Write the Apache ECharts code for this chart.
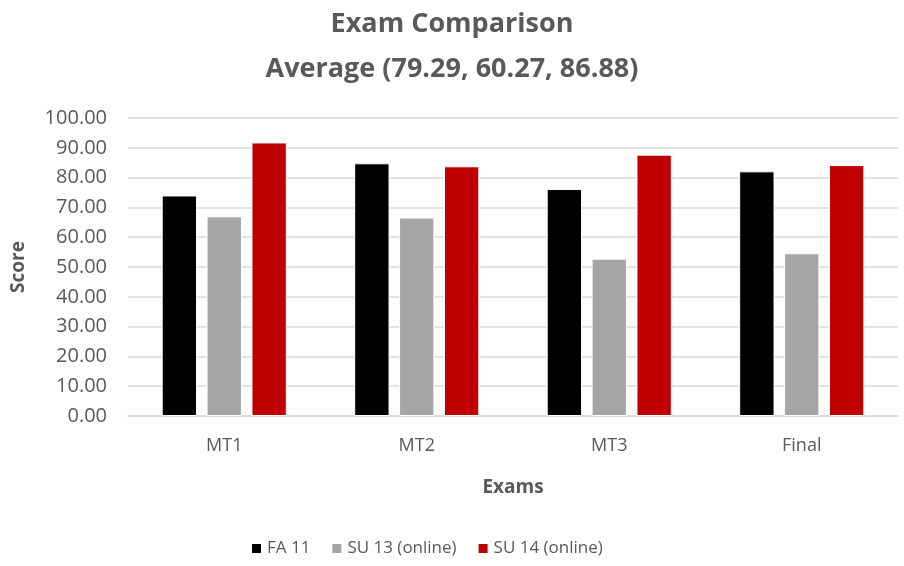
<!DOCTYPE html>
<html>
<head>
<meta charset="utf-8">
<script src="https://cdn.jsdelivr.net/npm/echarts@6/dist/echarts.min.js"></script>
<style>
  html, body { margin: 0; padding: 0; background: #fff; }
  #main { width: 904px; height: 566px; }
</style>
</head>
<body>
<div id="main"></div>
<script>
// 数据
const exams = ['MT1', 'MT2', 'MT3', 'Final']
const fa11 = [74.0, 84.8, 76.2, 82.1]
const su13 = [67.0, 66.6, 52.8, 54.6]
const su14 = [91.8, 83.8, 87.7, 84.2]
const seriesNames = ['FA 11', 'SU 13 (online)', 'SU 14 (online)']
const colors = ['#000000', '#a5a5a5', '#c00000']

const font = '"Open Sans", "Noto Sans", sans-serif'
const textGray = '#595959'

const myChart = echarts.init(document.querySelector('#main'))

const makeBar = (name, data, color) => ({
  name,
  type: 'bar',
  data,
  barGap: '27%',
  barCategoryGap: '35%',
  itemStyle: {
    color,
    borderColor: '#ffffff',
    borderWidth: 1
  }
})

const option = {
  animation: false,
  title: {
    text: 'Exam Comparison\nAverage (79.29, 60.27, 86.88)',
    left: 'center',
    top: -3,
    textStyle: {
      fontFamily: font,
      fontSize: 27,
      fontWeight: 'bold',
      color: textGray,
      lineHeight: 45
    }
  },
  grid: {
    left: 128,
    right: 6,
    top: 118,
    bottom: 150
  },
  legend: {
    bottom: 4,
    left: 245,
    itemWidth: 11,
    itemHeight: 11,
    itemGap: 20,
    icon: 'rect',
    textStyle: {
      fontFamily: font,
      fontSize: 17,
      color: textGray
    },
    data: seriesNames
  },
  xAxis: {
    type: 'category',
    data: exams,
    name: 'Exams',
    nameLocation: 'middle',
    nameGap: 62,
    nameTextStyle: {
      fontFamily: font,
      fontSize: 19,
      fontWeight: 'bold',
      color: textGray
    },
    axisLine: { lineStyle: { color: '#d9d9d9', width: 1.5 } },
    axisTick: { show: false },
    axisLabel: {
      margin: 21,
      fontFamily: font,
      fontSize: 18,
      color: textGray
    }
  },
  yAxis: {
    type: 'value',
    min: 0,
    max: 100,
    interval: 10,
    name: 'Score',
    nameLocation: 'middle',
    nameGap: 100,
    nameTextStyle: {
      fontFamily: font,
      fontSize: 19,
      fontWeight: 'bold',
      color: textGray
    },
    axisLine: { show: false },
    axisTick: { show: false },
    axisLabel: {
      margin: 21,
      fontFamily: font,
      fontSize: 20,
      color: textGray,
      formatter: v => v.toFixed(2)
    },
    splitLine: { lineStyle: { color: '#d9d9d9', width: 1.5 } }
  },
  series: [
    makeBar(seriesNames[0], fa11, colors[0]),
    makeBar(seriesNames[1], su13, colors[1]),
    makeBar(seriesNames[2], su14, colors[2])
  ]
}

myChart.setOption(option)
</script>
</body>
</html>
